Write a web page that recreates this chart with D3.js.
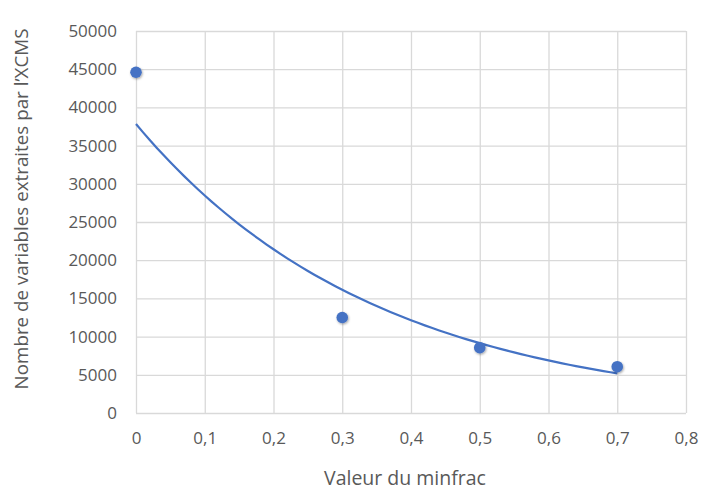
<!DOCTYPE html>
<html>
<head>
<meta charset="utf-8">
<script src="https://cdn.jsdelivr.net/npm/d3@7"></script>
<style>
  body { margin: 0; background: #fff; }
  text { font-family: "Open Sans", sans-serif; fill: #595959; }
</style>
</head>
<body>
<script>
// données
var minfrac = [0, 0.3, 0.5, 0.7];
var nbVariables = [44600, 12500, 8550, 6060];
var xTicks = [0, 0.1, 0.2, 0.3, 0.4, 0.5, 0.6, 0.7, 0.8];
var yTicks = [0, 5000, 10000, 15000, 20000, 25000, 30000, 35000, 40000, 45000, 50000];

var width = 702, height = 491;
var margin = {top: 31, right: 16, bottom: 78, left: 136};

var svg = d3.select("body").append("svg")
    .attr("width", width)
    .attr("height", height);

var x = d3.scaleLinear().domain([0, 0.8]).range([margin.left, width - margin.right]);
var y = d3.scaleLinear().domain([0, 50000]).range([height - margin.bottom, margin.top]);

var fmt = function(d) { return String(d).replace(".", ","); };

// grille
svg.append("g")
    .attr("transform", "translate(0," + (height - margin.bottom) + ")")
    .call(d3.axisBottom(x).tickValues(xTicks).tickSize(-(height - margin.bottom - margin.top)).tickFormat(fmt).tickPadding(19))
    .call(function(g) {
      g.select(".domain").remove();
      g.selectAll(".tick line").attr("stroke", "#d9d9d9").attr("stroke-width", 1.3);
      g.selectAll(".tick text").style("font-size", "17px");
    });

svg.append("g")
    .attr("transform", "translate(" + margin.left + ",0)")
    .call(d3.axisLeft(y).tickValues(yTicks).tickSize(-(width - margin.right - margin.left)).tickFormat(d3.format("d")).tickPadding(19))
    .call(function(g) {
      g.select(".domain").remove();
      g.selectAll(".tick line").attr("stroke", "#d9d9d9").attr("stroke-width", 1.3);
      g.selectAll(".tick text").style("font-size", "17px");
    });

// courbe de tendance exponentielle (moindres carrés sur ln(y), comme Excel)
var n = minfrac.length;
var mx = d3.mean(minfrac), ml = d3.mean(nbVariables, function(v) { return Math.log(v); });
var sxy = 0, sxx = 0;
for (var i = 0; i < n; i++) {
  sxy += (minfrac[i] - mx) * (Math.log(nbVariables[i]) - ml);
  sxx += (minfrac[i] - mx) * (minfrac[i] - mx);
}
var b = sxy / sxx, a = Math.exp(ml - b * mx);
var trendX = d3.range(0, 0.7001, 0.01);

svg.append("path")
    .datum(trendX)
    .attr("fill", "none")
    .attr("stroke", "#4472c4")
    .attr("stroke-width", 2.2)
    .attr("d", d3.line().x(function(d) { return x(d); }).y(function(d) { return y(a * Math.exp(b * d)); }));

// points
var defs = svg.append("defs");
var f = defs.append("filter").attr("id", "ombre").attr("x", "-50%").attr("y", "-50%").attr("width", "200%").attr("height", "200%");
f.append("feDropShadow").attr("dx", 0.8).attr("dy", 1.2).attr("stdDeviation", 1.2).attr("flood-color", "#000").attr("flood-opacity", 0.35);

svg.append("g").selectAll("circle")
    .data(minfrac)
    .enter().append("circle")
    .attr("cx", function(d) { return x(d); })
    .attr("cy", function(d, i) { return y(nbVariables[i]); })
    .attr("r", 5.8)
    .attr("fill", "#4472c4")
    .attr("filter", "url(#ombre)");

// titres des axes
svg.append("text")
    .attr("x", 405)
    .attr("y", 485)
    .attr("text-anchor", "middle")
    .style("font-size", "19.5px")
    .text("Valeur du minfrac");

svg.append("text")
    .attr("transform", "translate(28,209) rotate(-90)")
    .attr("text-anchor", "middle")
    .style("font-size", "18.8px")
    .text("Nombre de variables extraites par l’XCMS");
</script>
</body>
</html>
